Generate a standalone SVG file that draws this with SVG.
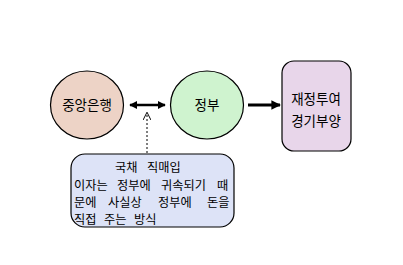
<svg xmlns="http://www.w3.org/2000/svg" width="403" height="265" viewBox="0 0 403 265">
<style>
.n{stroke:#000;stroke-width:1.2}
.t{font-family:"Noto Sans CJK KR","Noto Sans",sans-serif;font-size:13.5px;fill:#000}
.s{font-family:"Noto Sans CJK KR","Noto Sans",sans-serif;font-size:12.2px;fill:#000}
.c{text-anchor:middle}
</style>
<defs>
<marker id="fh" viewBox="0 0 10 10" refX="9" refY="5" markerWidth="3.2" markerHeight="3.2" orient="auto-start-reverse" markerUnits="strokeWidth"><path d="M0,0 L10,5 L0,10 z" fill="#000"/></marker>
<marker id="oh" viewBox="0 0 10 10" refX="9" refY="5" markerWidth="8" markerHeight="8" orient="auto" markerUnits="userSpaceOnUse"><path d="M0,0 L10,5 L0,10" fill="none" stroke="#000" stroke-width="1.2"/></marker>
</defs>
<rect width="403" height="265" fill="#fff"/>
<g id="connectors">
<line x1="130" y1="105" x2="165" y2="105" stroke="#000" stroke-width="2.5" marker-start="url(#fh)" marker-end="url(#fh)"/>
<line x1="248" y1="105" x2="280" y2="105" stroke="#000" stroke-width="3" marker-end="url(#fh)"/>
<line x1="147" y1="153" x2="147" y2="113" stroke="#000" stroke-width="1" stroke-dasharray="2,2" marker-end="url(#oh)"/>
</g>
<g id="central-bank">
<ellipse class="n" cx="87" cy="105" rx="36.5" ry="34" fill="#EDD3C6"/>
<text class="t c" x="87" y="110">중앙은행</text>
</g>
<g id="government">
<ellipse class="n" cx="207" cy="105" rx="36.5" ry="34" fill="#CFF3CF"/>
<text class="t c" x="207" y="110">정부</text>
</g>
<g id="fiscal">
<rect class="n" x="282" y="61" width="69" height="90" rx="12" fill="#E8D6EA"/>
<text class="t c" x="316" y="104">재정투여</text>
<text class="t c" x="316" y="126">경기부양</text>
</g>
<g id="note">
<rect class="n" x="71" y="154" width="163" height="73" rx="14" fill="#DDE3F7"/>
<text class="s"><tspan x="115" y="172">국채</tspan><tspan x="147" y="172">직매입</tspan></text>
<text class="s"><tspan x="74" y="190">이자는</tspan><tspan x="117" y="190">정부에</tspan><tspan x="161" y="190">귀속되기</tspan><tspan x="217" y="190">때</tspan></text>
<text class="s"><tspan x="74" y="207">문에</tspan><tspan x="108" y="207">사실상</tspan><tspan x="158" y="207">정부에</tspan><tspan x="207" y="207">돈을</tspan></text>
<text class="s"><tspan x="74" y="224">직접</tspan><tspan x="104" y="224">주는</tspan><tspan x="134" y="224">방식</tspan></text>
</g>
</svg>
